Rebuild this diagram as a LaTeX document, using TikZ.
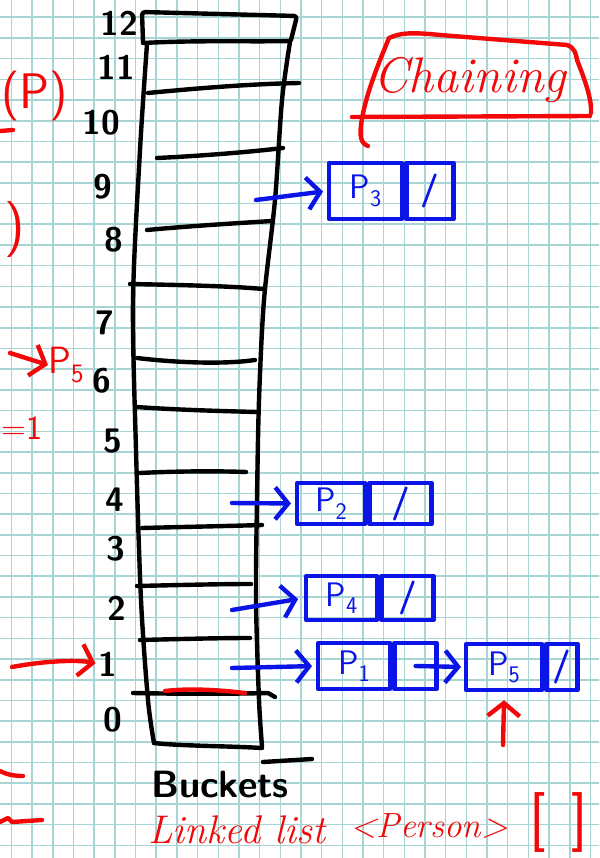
\documentclass[tikz,border=0pt]{standalone}
\usetikzlibrary{arrows.meta}
\definecolor{gridc}{HTML}{A9D4D4}
\definecolor{pblue}{HTML}{0B14E6}
\definecolor{pred}{HTML}{F20808}
\begin{document}
\begin{tikzpicture}[x=1pt,y=-1pt,line cap=round,line join=round,
  ink/.style={line width=4.4pt},
  blk/.style={ink,draw=black},
  bl/.style={ink,draw=pblue},
  rd/.style={ink,draw=pred},
  tip/.style={-{Straight Barb[length=13pt,width=32pt]}},
  num/.style={font=\sffamily\bfseries\fontsize{34}{34}\selectfont,text=black,inner sep=0pt},
  bcell/.style={ink,draw=pblue,anchor=west,inner sep=0pt,text=pblue,
     font=\sffamily\fontsize{34}{34}\selectfont},
  slash/.style={font=\sffamily\bfseries\fontsize{34}{34}\selectfont},
  redtxt/.style={text=pred,inner sep=0pt}]
\useasboundingbox (0,0) rectangle (599,858);
\clip (0,0) rectangle (599,858);
\fill[white] (0,0) rectangle (599,858);
% grid
\foreach \i in {0,...,28} \draw[gridc,line width=1.6pt] ({11.6+20.67*\i},0) -- ({11.6+20.67*\i},858);
\foreach \j in {0,...,40} \draw[gridc,line width=1.6pt] (0,{17.3+20.7*\j}) -- (599,{17.3+20.7*\j});

% ---------- bucket column ----------
\draw[blk,rounded corners=3pt] (143,42) -- (142,12) -- (297,16) -- (291,40);
\draw[blk] (143,43) .. controls (200,40) and (250,42) .. (290,41);
\draw[blk] plot[smooth] coordinates {(147,44) (140,150) (133,300) (136,450) (141,600) (148,700) (154,743)};
\draw[blk] (154,743) .. controls (180,746) and (230,746) .. (262,748);
\draw[blk] plot[smooth] coordinates {(290,42) (282,100) (275,200) (264,300) (259,400) (257,500) (256,600) (259,700) (262,746)};
% dividers
\draw[blk] (148,93) .. controls (200,88) and (250,84) .. (299,83);
\draw[blk] (157,158) .. controls (200,156) and (250,152) .. (283,148);
\draw[blk] (147,230) .. controls (190,226) and (240,223) .. (272,221);
\draw[blk] (130,284) .. controls (180,285) and (230,286) .. (263,289);
\draw[blk] (137,358) .. controls (170,362) and (220,365) .. (255,360);
\draw[blk] (136,407) .. controls (180,410) and (220,411) .. (257,412);
\draw[blk] (140,473) .. controls (180,471) and (220,471) .. (246,472);
\draw[blk] (142,528) .. controls (180,527) and (230,526) .. (262,525);
\draw[blk] (137,586) .. controls (180,585) and (220,584) .. (251,584);
\draw[blk] (140,640) .. controls (180,639) and (220,638) .. (250,638);
\draw[blk] (133,693) .. controls (180,694) and (230,694) .. (268,693) -- (275,697);
\draw[rd] (165,691) .. controls (190,688) and (220,690) .. (245,693);

% bucket numbers
\node[num] (n12) at (119,23) {12};
\node[num] (n11) at (116,67) {11};
\node[num] (n10) at (101,123) {10};
\node[num] (n9)  at (103,187) {9};
\node[num] (n8)  at (114,240) {8};
\node[num] (n7)  at (105,323) {7};
\node[num] (n6)  at (102,381) {6};
\node[num] (n5)  at (113,441) {5};
\node[num] (n4)  at (115,500) {4};
\node[num] (n3)  at (116,549) {3};
\node[num] (n2)  at (117,608) {2};
\node[num] (n1)  at (108,664) {1};
\node[num] (n0)  at (113,720) {0};

\node[font=\sffamily\bfseries\fontsize{38}{38}\selectfont,inner sep=0pt] (buck) at (220,785) {Buckets};
\coordinate (bk1) at (263,762);
\coordinate (bk2) at (312,759);
\draw[blk] (bk1) -- (bk2);

% ---------- linked list nodes ----------
\node[bcell,minimum width=73pt,minimum height=56pt] (p3) at (327,191) {P\textsubscript{3}};
\node[bcell,minimum width=47pt,minimum height=56pt,slash] (p3n) at (p3.east) {/};
\node[bcell,minimum width=68pt,minimum height=41pt] (p2) at (295,503.5) {P\textsubscript{2}};
\node[bcell,minimum width=62pt,minimum height=41pt,slash] (p2n) at (p2.east) {/};
\node[bcell,minimum width=71pt,minimum height=44pt] (p4) at (304,598) {P\textsubscript{4}};
\node[bcell,minimum width=52pt,minimum height=44pt,slash] (p4n) at (p4.east) {/};
\node[bcell,minimum width=72pt,minimum height=46pt] (p1) at (316,666) {P\textsubscript{1}};
\node[bcell,minimum width=42pt,minimum height=46pt] (p1n) at (p1.east) {};
\node[bcell,minimum width=76pt,minimum height=46pt] (p5) at (464,667) {P\textsubscript{5}};
\node[bcell,minimum width=31pt,minimum height=46pt,slash] (p5n) at (p5.east) {/};

\coordinate (a9) at (256,200);
\coordinate (a4) at (232,503);
\coordinate (a2) at (232,610);
\coordinate (a1) at (232,668);
\draw[bl,tip,shorten >=4pt] (a9) -- (p3.west);
\draw[bl,tip,shorten >=4pt] (a4) -- (p2.west);
\draw[bl,tip,shorten >=6pt] (a2) -- (p4.west);
\draw[bl,tip,shorten >=4pt] (a1) -- (p1.west);
\draw[bl,tip,shorten >=3pt] (p1n.center) -- (p5.west);

% ---------- red annotations ----------
\draw[rd] (368,146) .. controls (360,143) and (360,135) .. (361,125)
   .. controls (365,95) and (380,60) .. (389,38) .. controls (400,33) and (410,32) .. (440,35)
   -- (567,45) .. controls (575,48) and (576,54) .. (577,60)
   .. controls (585,80) and (592,100) .. (591,113);
\draw[rd] (352,117) -- (590,116);
\node[redtxt,font=\itshape\fontsize{50}{50}\selectfont] (chain) at (470,80) {Chaining};

\coordinate (rup) at (503,745);
\draw[rd,tip,shorten >=8pt] (rup) -- (p5.south);

\coordinate (rl) at (12,667);
\draw[rd,tip,shorten >=3pt] (rl) .. controls (50,660) and (80,660) .. (n1.west);

\node[redtxt,font=\sffamily\fontsize{50}{50}\selectfont,anchor=east] (pp) at (68,96) {(P)};
\draw[rd] (0,131) -- (13,130);
\node[redtxt,font=\sffamily\fontsize{56}{56}\selectfont,anchor=east] (paren) at (25,230) {)};
\node[redtxt,font=\sffamily\fontsize{38}{38}\selectfont,anchor=west] (p5l) at (48,365) {P\textsubscript{5}};
\coordinate (rp) at (10,353);
\draw[rd,tip,shorten >=0pt] (rp) -- (p5l.west);
\node[redtxt,font=\sffamily\fontsize{34}{34}\selectfont,anchor=west] (eq1) at (1,428) {=1};
\draw[rd] (0,771) .. controls (8,775) and (15,776) .. (23,776);
\draw[rd] (0,822) -- (8,818) -- (12,822) -- (42,820);

\node[redtxt,font=\itshape\fontsize{40}{40}\selectfont,anchor=west] (ll) at (148,830) {Linked list};
\node[redtxt,font=\itshape\fontsize{35}{35}\selectfont,anchor=west] (lp) at (350,826) {<Person>};
\node[redtxt,font=\sffamily\fontsize{60}{60}\selectfont] (lb1) at (538,822) {[};
\node[redtxt,font=\sffamily\fontsize{60}{60}\selectfont] (lb2) at (580,822) {]};
\end{tikzpicture}
\end{document}
